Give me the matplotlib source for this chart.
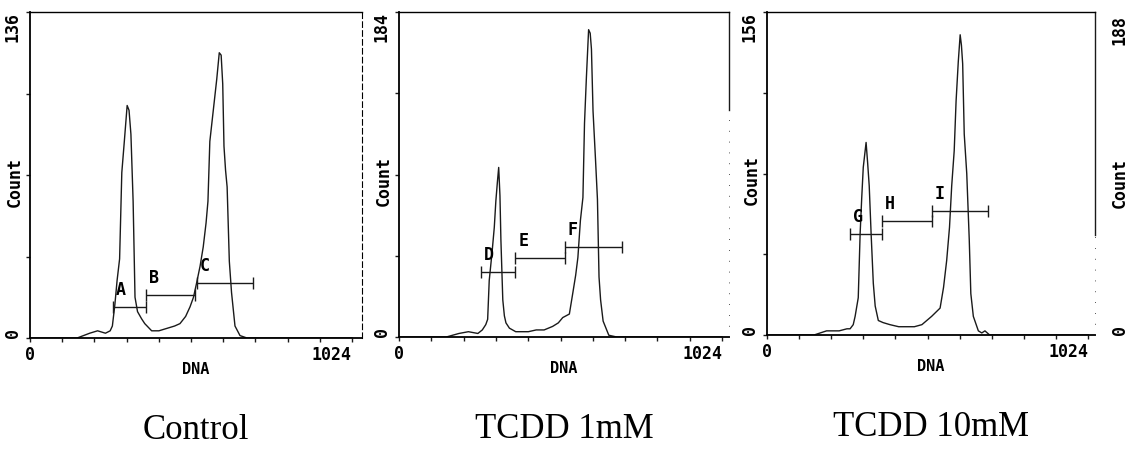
import matplotlib
matplotlib.use('Agg')
import matplotlib.pyplot as plt

# DNA histograms (channel, count)
controlChannel = [0, 150, 190, 215, 240, 255, 262, 270, 277, 285, 292, 300, 309, 315, 321, 328, 334, 342, 355, 365,
                  387, 410, 435, 460, 477, 495, 509, 520, 530, 541, 551, 560, 566, 572, 583, 594, 602, 608, 613, 617,
                  622, 627, 634, 641, 652, 668, 690, 1024]
controlCount = [0, 0, 2, 3, 2, 3, 5, 14, 24, 33, 69, 82, 97, 95, 85, 57, 17, 11, 8, 6,
                3, 3, 4, 5, 6, 9, 13, 17, 23, 30, 38, 48, 57, 82, 95, 108, 119, 118, 106, 80,
                70, 63, 32, 19, 5, 1, 0, 0]

tcdd1Channel = [0, 150, 190, 220, 250, 264, 275, 281, 286, 295, 302, 307, 312, 316, 320, 323, 329, 334, 339, 350,
                370, 385, 410, 435, 460, 487, 505, 519, 540, 551, 560, 567, 575, 583, 588, 594, 601, 606, 610, 615,
                623, 629, 634, 639, 647, 665, 690, 1024]
tcdd1Count = [0, 0, 2, 3, 2, 4, 7, 10, 32, 48, 62, 77, 88, 96, 80, 55, 21, 12, 8, 5,
              3, 3, 3, 4, 4, 6, 8, 11, 13, 25, 35, 45, 66, 79, 121, 147, 174, 172, 163, 128,
              100, 78, 34, 21, 9, 1, 0, 0]

tcdd10Channel = [0, 150, 190, 230, 255, 265, 275, 281, 291, 297, 302, 307, 316, 321, 326, 332, 339, 345, 355, 370,
                 392, 420, 446, 470, 494, 525, 552, 563, 573, 582, 589, 597, 603, 610, 616, 620, 624, 629, 637, 645,
                 650, 658, 674, 685, 695, 710, 1024]
tcdd10Count = [0, 0, 2, 2, 3, 3, 5, 9, 18, 49, 66, 81, 93, 83, 72, 49, 25, 14, 7, 6,
               5, 4, 4, 4, 5, 9, 13, 23, 36, 52, 72, 89, 113, 132, 145, 140, 131, 97, 78, 46,
               20, 9, 2, 1, 2, 0, 0]

# gates: label, start channel, end channel, level (count)
controlGates = [('A', 264, 369, 13), ('B', 369, 525, 18), ('C', 531, 709, 23)]
tcdd1Gates = [('D', 261, 369, 37), ('E', 369, 525, 45), ('F', 525, 706, 51)]
tcdd10Gates = [('G', 265, 367, 49), ('H', 367, 526, 55), ('I', 526, 705, 60)]

yMax = [136, 184, 156]
captions = ['Control', 'TCDD 1mM', 'TCDD 10mM']

W, H = 1135.0, 450.0
mono = {'family': 'DejaVu Sans Mono', 'weight': 'bold', 'size': 12}


def px(left, top, right, bottom):
    return [left / W, 1 - bottom / H, (right - left) / W, (bottom - top) / H]


def plotPanel(ax, channel, count, gates, ymax, xmax, caption, rightSolid):
    ax.plot(channel, count, color='#1a1a1a', lw=1.0)
    for name, start, end, level in gates:
        ax.errorbar((start + end) / 2.0, level, xerr=(end - start) / 2.0, fmt='none',
                    ecolor='#1a1a1a', elinewidth=1.0, capsize=4, capthick=1.0)
        ax.annotate(name, xy=(start, level), xytext=(8, 17), textcoords='offset pixels',
                    ha='center', va='center', **mono)
    ax.set_xlim(0, xmax)
    ax.set_ylim(0, ymax)
    xt = [i * 102.4 for i in range(11)]
    ax.set_xticks(xt)
    ax.set_xticklabels(['0'] + [''] * 9 + ['1024'], **mono)
    ax.get_xticklabels()[-1].set_horizontalalignment('right')
    ax.get_xticklabels()[-1].set_x(1040)
    ax.set_yticks([ymax * i / 4.0 for i in range(5)])
    ax.set_yticklabels(['0', '', '', '', str(ymax)], rotation=90, **mono)
    ax.get_yticklabels()[0].set_verticalalignment('bottom')
    ax.get_yticklabels()[-1].set_verticalalignment('top')
    ax.tick_params(direction='out', length=3, width=1, pad=3, color='#1a1a1a')
    ax.set_xlabel('DNA', family='DejaVu Sans Mono', weight='bold', size=11)
    ax.xaxis.set_label_coords(0.5, -0.075)
    ax.set_ylabel('Count', **mono)
    ax.yaxis.set_label_coords(-0.02, 0.48)
    for side in ['left', 'bottom']:
        ax.spines[side].set_linewidth(1.3)
    ax.spines['top'].set_linewidth(1.0)
    # the scanned right edge is only partly visible
    if rightSolid is None:
        ax.spines['right'].set_linewidth(0.8)
        ax.spines['right'].set_linestyle((0, (5, 3)))
    else:
        ax.spines['right'].set_visible(False)
        ax.axvline(xmax, ymin=rightSolid, ymax=1, color='#1a1a1a', lw=1.0, clip_on=False)
        ax.axvline(xmax, ymin=0, ymax=rightSolid, color='#1a1a1a', lw=0.6,
                   ls=(0, (1, 12)), clip_on=False)
    ax.text(0.5, -0.285, caption, transform=ax.transAxes, ha='center', va='center',
            family='Liberation Serif', size=25)


def main():
    fig = plt.figure(figsize=(11.35, 4.5), dpi=100)
    ax1 = fig.add_axes(px(30, 12, 362, 338))
    ax2 = fig.add_axes(px(399, 12, 729, 337))
    ax3 = fig.add_axes(px(767, 12, 1095, 335))
    plotPanel(ax1, controlChannel, controlCount, controlGates, yMax[0], 1056, captions[0], None)
    plotPanel(ax2, tcdd1Channel, tcdd1Count, tcdd1Gates, yMax[1], 1046, captions[1], 0.7)
    plotPanel(ax3, tcdd10Channel, tcdd10Count, tcdd10Gates, yMax[2], 1046, captions[2], 0.31)
    # edge of the next panel, cut off by the scan
    fig.text(1120 / W, 1 - 30 / H, '188', rotation=90, ha='center', va='center', **mono)
    fig.text(1120 / W, 1 - 183 / H, 'Count', rotation=90, ha='center', va='center', **mono)
    fig.text(1120 / W, 1 - 330 / H, '0', rotation=90, ha='center', va='center', **mono)
    fig.savefig('out.png', dpi=100)


if __name__ == '__main__':
    main()
